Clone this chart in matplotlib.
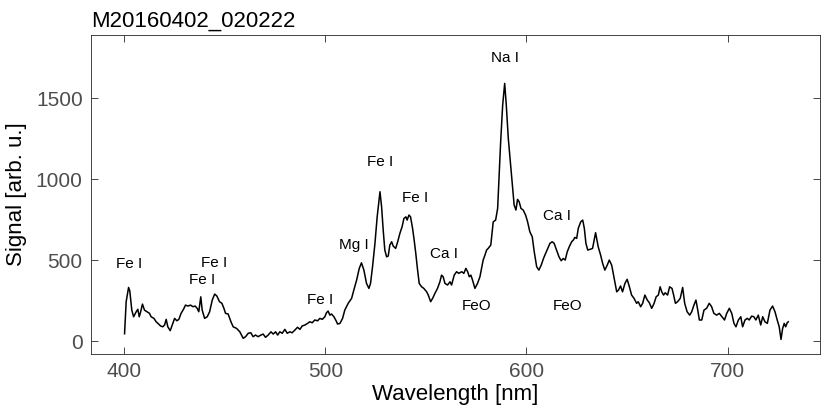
import matplotlib
matplotlib.use("Agg")
import matplotlib.pyplot as plt

plt.rcParams['font.family'] = ['Liberation Sans', 'DejaVu Sans']

# spectrum (nm, arb. u.)
wavelength = [
    400.2, 401.0, 402.2, 402.8, 403.8, 404.7, 406.0, 406.8, 407.5, 408.1, 409.1, 410.1, 411.4,
    412.6, 413.4, 414.8, 415.9, 416.8, 418.1, 419.2, 420.1, 420.9, 421.7, 422.9, 423.9, 425.1,
    426.2, 427.2, 428.3, 429.5, 430.5, 431.7, 433.0, 434.2, 435.3, 436.3, 437.1, 438.1, 438.8,
    440.0, 441.3, 442.5, 443.8, 445.0, 446.1, 447.4, 448.6, 449.6, 450.4,
    451.7, 453.1, 454.2, 455.9, 457.5, 459.2, 460.4, 461.7, 463.0, 464.1, 465.3, 466.6, 468.0,
    469.1, 470.3, 471.6, 473.0, 474.1, 475.3, 476.3, 477.4, 478.6, 479.9, 481.1, 482.4, 483.5,
    484.9, 486.2, 487.4, 488.5, 489.9, 491.2, 492.3, 493.5, 494.8, 496.2, 497.3, 498.5, 499.8,
    500.6, 501.4, 502.3, 503.1, 504.3, 505.6, 506.1, 507.3, 508.6,
    509.7, 511.4, 513.1, 514.2, 515.6, 516.9, 518.0, 519.2, 520.5, 521.7, 522.5, 523.5, 524.7,
    525.8, 527.2, 528.0, 528.8, 529.6, 530.5, 531.3, 532.1, 533.0, 533.8, 535.0, 536.0, 537.1,
    538.2, 539.1, 540.1, 540.7, 541.6, 542.4, 543.4, 544.2, 545.0, 545.9, 546.7, 547.9, 549.0,
    550.4, 551.2, 552.4, 553.4, 554.5,
    555.8, 557.0, 557.8, 558.6, 559.5, 560.8, 562.0, 562.8, 564.1, 565.3, 566.4, 567.8, 568.9,
    569.9, 570.8, 571.6, 572.4, 573.2, 574.4, 575.7, 576.9, 577.7, 578.5, 579.4, 580.2, 581.0,
    582.3, 583.5, 584.7, 585.7, 586.3, 587.2, 588.2, 589.2, 590.0, 591.0, 592.3, 593.2, 593.9,
    594.8, 595.6, 596.4, 597.3, 598.4, 599.6, 600.6, 601.7, 602.9, 603.9, 605.1, 606.2,
    607.4, 608.5, 609.2, 610.3, 611.7, 612.8, 613.8, 615.0, 616.2, 617.3, 618.3, 619.3, 620.3,
    621.3, 622.5, 623.3, 624.1, 625.0, 625.8, 627.0, 628.0, 628.8, 629.6, 630.5, 631.6, 632.9,
    634.4, 635.7, 636.9, 637.9, 639.0, 640.2, 641.2, 642.4, 643.5, 644.9, 645.8, 646.8, 647.8,
    649.0, 650.1, 651.1, 652.3, 653.5, 654.8, 655.6, 656.8, 657.8, 658.9, 660.1, 661.1, 662.3,
    663.5, 664.5, 665.6, 666.5, 667.3, 668.2, 669.0, 670.2, 671.2, 672.4, 673.2, 674.1, 675.2,
    676.5, 677.7, 678.7, 679.9, 681.2, 682.2, 683.3, 684.3, 685.2, 686.0, 687.2, 688.3, 689.6,
    690.9, 692.1, 693.2, 694.6, 695.9, 697.2, 698.5, 699.6, 700.9, 702.1, 703.2, 704.2, 705.4,
    706.6, 707.5, 708.7, 709.8, 710.8, 712.0, 713.1, 714.1, 715.3, 716.5, 717.5, 718.6, 719.8,
    721.1, 722.4, 723.6, 724.7, 725.7, 726.6, 727.4, 728.2, 728.9, 729.7, 730.2,
]
signal = [
    45, 243, 331, 310, 191, 150, 181, 196, 150, 175, 228, 191, 181,
    171, 150, 140, 119, 109, 93, 88, 99, 134, 88, 64, 99, 140,
    125, 134, 171, 196, 222, 216, 222, 212, 216, 202, 181, 273, 191,
    140, 150, 181, 253, 290, 278, 243, 233, 202, 171,
    167, 119, 88, 78, 57, 17, 27, 48, 51, 27, 37, 27, 37,
    43, 23, 37, 57, 43, 57, 37, 57, 48, 72, 48, 57, 51,
    68, 85, 72, 93, 99, 109, 119, 113, 130, 125, 140, 134, 150,
    175, 185, 160, 167, 150, 120, 105, 109, 140,
    191, 233, 264, 315, 377, 449, 483, 438, 356, 325, 356, 459, 603,
    767, 922, 829, 685, 562, 520, 525, 593, 613, 586, 572, 613, 665,
    706, 757, 767, 747, 778, 767, 696, 623, 541, 438, 356, 335, 325,
    304, 284, 243, 264, 294,
    325, 366, 407, 397, 356, 346, 366, 346, 407, 428, 418, 428, 418,
    449, 428, 397, 407, 377, 325, 356, 397, 449, 500, 531, 562, 572,
    593, 736, 747, 819, 983, 1230, 1457, 1591, 1457, 1251, 1066, 943, 840,
    809, 875, 860, 819, 809, 778, 736, 675, 644, 551, 459, 438,
    470, 510, 531, 562, 603, 613, 603, 562, 520, 496, 510, 500, 551,
    582, 613, 623, 640, 634, 696, 736, 747, 696, 603, 562, 566, 572,
    669, 582, 531, 480, 438, 469, 500, 469, 397, 304, 315, 340, 304,
    356, 381, 340, 284, 264, 233, 243, 212, 233, 284, 253, 237, 202,
    233, 273, 284, 335, 304, 284, 298, 284, 335, 325, 284, 233, 243,
    264, 331, 233, 181, 160, 181, 222, 253, 191, 130, 130, 191, 202,
    233, 212, 171, 160, 171, 150, 130, 171, 202, 171, 109, 88, 130,
    150, 88, 130, 140, 130, 154, 150, 130, 160, 99, 150, 119, 109,
    191, 216, 181, 130, 88, 10, 78, 109, 88, 113, 119,
]

# line labels
label_text = ["Fe I", "Fe I", "Fe I", "Fe I", "Mg I", "Fe I", "Fe I", "Ca I", "FeO", "Na I", "Ca I", "FeO"]
label_x = [402.4, 444.6, 438.6, 497.3, 514.2, 527.2, 544.6, 559.0, 575.4, 589.3, 615.1, 620.6]
label_y = [475, 481, 377, 253, 593, 1105, 883, 537, 216, 1747, 772, 216]

fig = plt.figure(figsize=(8.3, 4.15), dpi=100)
ax = fig.add_axes([0.1096, 0.147, 0.8784, 0.7687])

ax.plot(wavelength, signal, color='k', lw=1.1)

for t, x, y in zip(label_text, label_x, label_y):
    ax.text(x, y, t, ha='center', va='center', fontsize=11, color='k')

ax.set_xlim(383.5, 746)
ax.set_ylim(-80, 1890)
ax.set_xticks([400, 500, 600, 700])
ax.set_yticks([0, 500, 1000, 1500])

ax.tick_params(direction='in', top=True, right=True, length=5, width=0.6,
               labelsize=15, colors='#262626', labelcolor='#4d4d4d', pad=6)
for s in ax.spines.values():
    s.set_color('#262626')
    s.set_linewidth(0.6)

ax.set_xlabel("Wavelength [nm]", fontsize=16, labelpad=2)
ax.set_ylabel("Signal [arb. u.]", fontsize=16, labelpad=6)
ax.set_title("M20160402_020222", loc='left', fontsize=16, pad=6)

fig.savefig("out.png", dpi=100)
